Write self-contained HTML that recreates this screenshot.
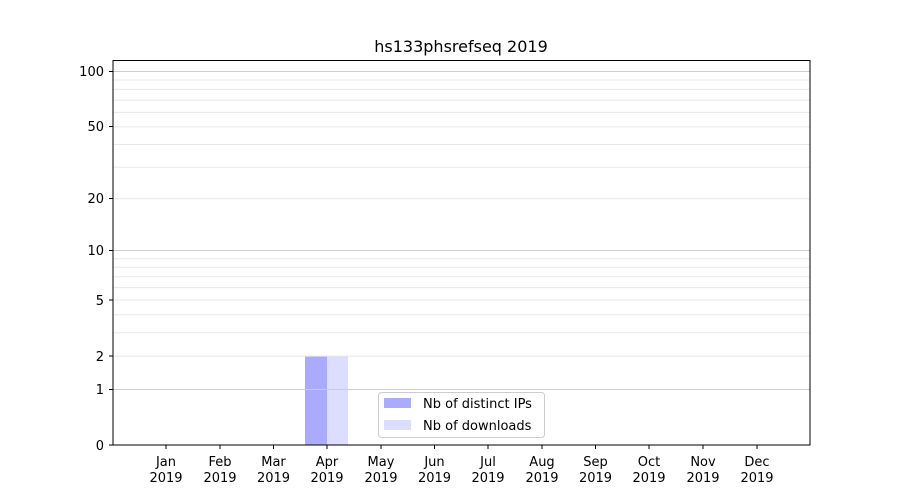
<!DOCTYPE html>
<html><head><style>body{margin:0;background:#fff}svg{display:block}text{font-family:"DejaVu Sans","Liberation Sans",sans-serif;font-size:13px;fill:#000}</style></head>
<body>
<svg width="900" height="500" xmlns="http://www.w3.org/2000/svg">
<rect width="900" height="500" fill="#fff"/>
<rect x="305" y="356" width="22" height="89" fill="#aaaaff"/>
<rect x="327" y="356" width="21" height="89" fill="#ddddff"/>
<g stroke="#e8e8e8" stroke-width="1">
<line x1="113" x2="810" y1="356.1" y2="356.1"/><line x1="113" x2="810" y1="332.8" y2="332.8"/><line x1="113" x2="810" y1="314.8" y2="314.8"/><line x1="113" x2="810" y1="300" y2="300"/><line x1="113" x2="810" y1="287.6" y2="287.6"/><line x1="113" x2="810" y1="276.8" y2="276.8"/><line x1="113" x2="810" y1="267.2" y2="267.2"/><line x1="113" x2="810" y1="258.7" y2="258.7"/>
<line x1="113" x2="810" y1="198.7" y2="198.7"/><line x1="113" x2="810" y1="167.2" y2="167.2"/><line x1="113" x2="810" y1="144.5" y2="144.5"/><line x1="113" x2="810" y1="126.9" y2="126.9"/><line x1="113" x2="810" y1="112.4" y2="112.4"/><line x1="113" x2="810" y1="100.1" y2="100.1"/><line x1="113" x2="810" y1="89.4" y2="89.4"/><line x1="113" x2="810" y1="80" y2="80"/>
</g>
<g stroke="#cccccc" stroke-width="1">
<line x1="113" x2="810" y1="389.5" y2="389.5"/><line x1="113" x2="810" y1="250.5" y2="250.5"/><line x1="113" x2="810" y1="71.5" y2="71.5"/>
</g>
<rect x="113" y="60.5" width="697" height="384.5" fill="none" stroke="#000" stroke-width="1"/>
<g stroke="#000">
<line x1="109" x2="113" y1="445" y2="445"/><line x1="109" x2="113" y1="389.5" y2="389.5"/><line x1="109" x2="113" y1="356" y2="356"/><line x1="109" x2="113" y1="300" y2="300"/><line x1="109" x2="113" y1="250.5" y2="250.5"/><line x1="109" x2="113" y1="198.5" y2="198.5"/><line x1="109" x2="113" y1="126.5" y2="126.5"/><line x1="109" x2="113" y1="71.5" y2="71.5"/>
</g>
<g text-anchor="end">
<text x="104" y="450">0</text><text x="104" y="394">1</text><text x="104" y="361">2</text><text x="104" y="305">5</text><text x="104" y="255">10</text><text x="104" y="203">20</text><text x="104" y="131">50</text><text x="104" y="76">100</text>
</g>
<g stroke="#000">
<line x1="166" x2="166" y1="445" y2="449"/><line x1="220" x2="220" y1="445" y2="449"/><line x1="273.5" x2="273.5" y1="445" y2="449"/><line x1="327" x2="327" y1="445" y2="449"/><line x1="381" x2="381" y1="445" y2="449"/><line x1="434.5" x2="434.5" y1="445" y2="449"/><line x1="488" x2="488" y1="445" y2="449"/><line x1="542" x2="542" y1="445" y2="449"/><line x1="595.5" x2="595.5" y1="445" y2="449"/><line x1="649" x2="649" y1="445" y2="449"/><line x1="703" x2="703" y1="445" y2="449"/><line x1="757" x2="757" y1="445" y2="449"/>
</g>
<g text-anchor="middle">
<text x="166" y="466">Jan</text><text x="166" y="482">2019</text>
<text x="220" y="466">Feb</text><text x="220" y="482">2019</text>
<text x="273.5" y="466">Mar</text><text x="273.5" y="482">2019</text>
<text x="327" y="466">Apr</text><text x="327" y="482">2019</text>
<text x="381" y="466">May</text><text x="381" y="482">2019</text>
<text x="434.5" y="466">Jun</text><text x="434.5" y="482">2019</text>
<text x="488" y="466">Jul</text><text x="488" y="482">2019</text>
<text x="542" y="466">Aug</text><text x="542" y="482">2019</text>
<text x="595.5" y="466">Sep</text><text x="595.5" y="482">2019</text>
<text x="649" y="466">Oct</text><text x="649" y="482">2019</text>
<text x="703" y="466">Nov</text><text x="703" y="482">2019</text>
<text x="757" y="466">Dec</text><text x="757" y="482">2019</text>
<text x="461" y="52" style="font-size:16px">hs133phsrefseq 2019</text>
</g>
<rect x="378.5" y="392.5" width="166" height="45" rx="3" fill="#fff" fill-opacity="0.8" stroke="#cccccc"/>
<rect x="384" y="398" width="27" height="10" fill="#aaaaff"/>
<rect x="384" y="420" width="27" height="10" fill="#ddddff"/>
<text x="423" y="408">Nb of distinct IPs</text>
<text x="423" y="430">Nb of downloads</text>
</svg>
</body></html>
